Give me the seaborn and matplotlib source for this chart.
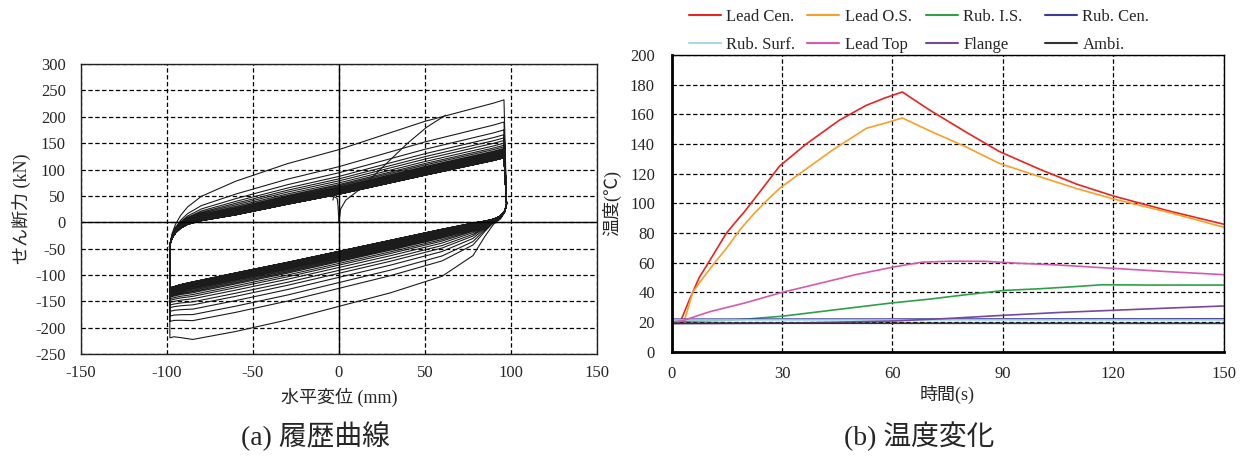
import numpy as np
import pandas as pd
import matplotlib.pyplot as plt
from matplotlib.lines import Line2D
import seaborn as sns

sns.set_style("white")
plt.rcParams['font.family'] = ['Liberation Serif', 'Noto Sans CJK JP']
plt.rcParams['axes.unicode_minus'] = False

# ---------------- (a) hysteresis data ----------------
# shape of the innermost (last) loop, upper branch left->right
upper_x = [-98.5, -97, -95, -92, -88, -80, -60, -30, 0, 50, 90, 96]
upper_base = [-45, -30, -20, -11, -4, 3, 14, 34, 53, 89, 117, 122]
# how much of a cycle's extra peak force shows at each x (read from outer loops)
upper_share = [0.0, 0.08, 0.15, 0.22, 0.3, 0.42, 0.58, 0.7, 0.77, 0.93, 0.99, 1.0]

# lower branch right->left
lower_x = [97.5, 96.5, 94, 90, 85, 78, 60, 30, 0, -30, -60, -85, -92, -96, -98.3]
lower_base = [35, 22, 12, 6, 2, -2, -14, -35, -56, -77, -97, -114, -119, -123, -125]
lower_share = [0.0, 0.03, 0.06, 0.1, 0.3, 0.65, 0.94, 1.05, 1.1, 1.15, 1.17, 1.15, 1.06, 1.0, 1.0]

# peak force of each cycle at +96 mm and trough at -96 mm
upper_peaks = [232, 190, 175, 166, 160, 155, 150, 146, 143, 140, 138, 136, 134,
               132.5, 131, 130, 129, 128, 127, 126.5, 126, 125.5, 125, 124.5,
               124, 123.8, 123.5, 123.2, 123, 122.8, 122.6, 122.4, 122.2, 122]
lower_peaks = [-217, -186, -176, -167, -160, -155, -150, -146, -143, -140, -138,
               -136, -134, -132.5, -131, -130, -129, -128, -127, -126.5, -126,
               -125.5, -125, -124.5, -124, -123.8, -123.5, -123.2, -123, -122.8,
               -122.6, -122.4, -122.2, -122]

# first loading from the origin
init_x = [0, 1, 4, 12, 24, 40, 51, 62]
init_y = [0, 25, 42, 62, 100, 150, 180, 203]
hook_x = [0, -0.5, -1, -3, -3.5]
hook_y = [0, 30, 45, 49, 42]

# ---------------- (b) temperature data ----------------
lead_cen_t = [0, 2.5, 5, 7.5, 10, 14.9, 17.6, 20, 25, 29.3, 36.6, 45.6, 52.9, 58, 62.7,
              70, 80, 89, 100, 110, 120, 135, 150]
lead_cen_T = [20, 21, 36, 50, 60, 80, 88, 95, 111, 125, 140, 156, 166, 171, 175,
              163, 148, 135, 123, 113, 105, 95, 86]
lead_os_t = [0, 3.5, 5.7, 8, 11.7, 15, 18.5, 22, 25.5, 29.3, 34.8, 43.8, 52.9, 58, 62.7,
             70, 80, 89, 100, 110, 120, 135, 150]
lead_os_T = [20, 21, 40, 48, 60, 70, 82, 92, 101, 110, 120, 136, 150.5, 154, 157.5,
             149, 138, 127, 118, 110, 103, 94, 84]
rub_is_t = [0, 15, 20, 30, 40, 50, 60, 70, 80, 90.5, 100, 110, 117, 130, 150]
rub_is_T = [20.5, 21.3, 22, 24, 27, 30, 33, 35.5, 38.5, 41.4, 42.5, 44, 45.2, 45, 45]
rub_cen_t = [0, 150]
rub_cen_T = [22, 22.2]
rub_surf_t = [0, 150]
rub_surf_T = [21.5, 21.5]
lead_top_t = [0, 3, 10.3, 20, 29.9, 40, 50, 60, 68, 75, 85, 94, 105, 115, 125, 135, 150]
lead_top_T = [20, 21, 27, 33, 40, 46, 52, 57, 60.4, 61, 61, 59.7, 58.5, 57, 55.5, 54, 52]
flange_t = [0, 30, 45, 60, 75, 90, 105, 120, 135, 150]
flange_T = [19, 19.3, 20, 20.8, 22.5, 24.6, 26.5, 28, 29.5, 30.9]
ambi_t = [0, 150]
ambi_T = [19.3, 19.2]

series = [
    ("Lead Cen.", lead_cen_t, lead_cen_T, "#E82420"),
    ("Lead O.S.", lead_os_t, lead_os_T, "#F7A02A"),
    ("Rub. I.S.", rub_is_t, rub_is_T, "#2FA04A"),
    ("Rub. Cen.", rub_cen_t, rub_cen_T, "#3A3C9C"),
    ("Rub. Surf.", rub_surf_t, rub_surf_T, "#A6D8E6"),
    ("Lead Top", lead_top_t, lead_top_T, "#D45BAE"),
    ("Flange", flange_t, flange_T, "#7648A0"),
    ("Ambi.", ambi_t, ambi_T, "#333333"),
]

# ---------------- build hysteresis path ----------------
ux = np.array(upper_x); ub = np.array(upper_base); uw = np.array(upper_share)
lx = np.array(lower_x); lb = np.array(lower_base); lw_ = np.array(lower_share)
px, py = [], []
for P, T in zip(upper_peaks, lower_peaks):
    px += list(ux); py += list(ub + (P - ub[-1]) * uw)
    px += list(lx); py += list(lb + (T - lb[-2]) * lw_)
hyst = pd.concat([
    pd.DataFrame({"x": px, "y": py, "seg": 0}),
    pd.DataFrame({"x": init_x, "y": init_y, "seg": 1}),
    pd.DataFrame({"x": hook_x, "y": hook_y, "seg": 2}),
])

fig = plt.figure(figsize=(12.46, 4.57), dpi=100)
ax1 = fig.add_axes([0.065, 0.225, 0.414, 0.635])
ax2 = fig.add_axes([0.539, 0.230, 0.443, 0.650])

dash = (0, (3.5, 2))

# ---- left chart
sns.lineplot(data=hyst, x="x", y="y", units="seg", estimator=None, sort=False,
             color="#1c1c1c", lw=0.8, ax=ax1)
ax1.set_xlim(-150, 150)
ax1.set_ylim(-250, 300)
ax1.set_xticks(range(-150, 151, 50))
ax1.set_yticks(range(-250, 301, 50))
ax1.grid(True, ls=dash, color="black", lw=0.9)
ax1.axhline(0, color="black", lw=1.0)
ax1.axvline(0, color="black", lw=1.0)
ax1.tick_params(length=0, labelsize=12)
ax1.tick_params(axis="y", pad=11)
ax1.tick_params(axis="x", pad=8)
for s in ax1.spines.values():
    s.set_color("#222222"); s.set_linewidth(1.0)
ax1.set_xlabel("水平変位 (mm)", fontsize=13, labelpad=5)
ax1.set_ylabel("せん断力 (kN)", fontsize=13, labelpad=3)

# ---- right chart
temp = pd.concat([pd.DataFrame({"t": t, "T": T, "name": n}) for n, t, T, c in series])
palette = {n: c for n, t, T, c in series}
sns.lineplot(data=temp, x="t", y="T", hue="name", palette=palette, estimator=None,
             lw=1.2, ax=ax2, legend=False)
ax2.set_xlim(0, 150)
ax2.set_ylim(0, 200)
ax2.set_xticks(range(0, 151, 30))
ax2.set_yticks(range(0, 201, 20))
ax2.grid(True, ls=dash, color="black", lw=0.9)
ax2.tick_params(length=0, labelsize=12)
ax2.tick_params(axis="y", pad=12)
ax2.tick_params(axis="x", pad=10)
for side, s in ax2.spines.items():
    s.set_color("black")
    s.set_linewidth(2.0 if side in ("left", "bottom") else 1.0)
ax2.set_xlabel("時間(s)", fontsize=13, labelpad=2)
ax2.set_ylabel("温度(℃)", fontsize=13, labelpad=6)

# legend: four fixed-width columns, two entries each (row-wise order of the original)
columns = [(0, 4), (1, 5), (2, 6), (3, 7)]
col_left = [674, 792, 911, 1030]
for (a, b), left in zip(columns, col_left):
    hs = [Line2D([], [], color=series[i][3], lw=1.5) for i in (a, b)]
    fig.legend(hs, [series[a][0], series[b][0]], loc="upper left",
               bbox_to_anchor=(left / 1246, 1.014), frameon=False, fontsize=12,
               handlelength=1.9, handletextpad=0.35, labelspacing=0.73)

fig.text(0.253, 0.045, "(a) 履歴曲線", ha="center", va="center", fontsize=20)
fig.text(0.738, 0.045, "(b) 温度変化", ha="center", va="center", fontsize=20)

fig.savefig("out.png", dpi=100)
